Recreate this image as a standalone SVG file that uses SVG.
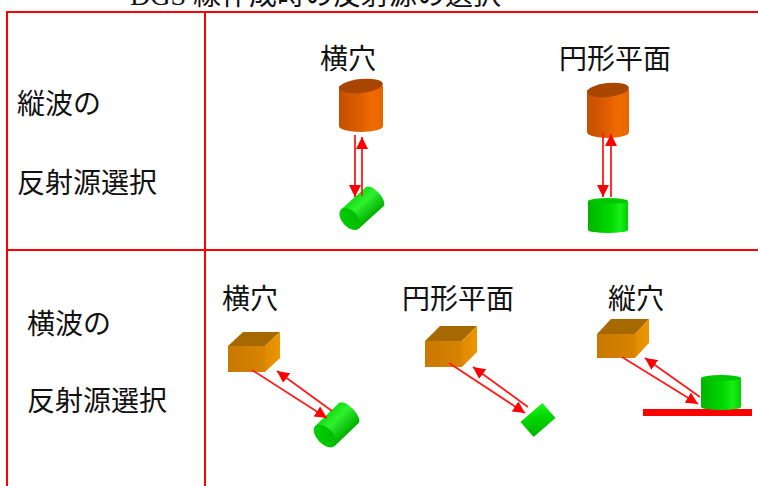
<svg xmlns="http://www.w3.org/2000/svg" width="758" height="486" viewBox="0 0 758 486">
<style>
.txt{font-family:"Liberation Serif","Noto Sans CJK JP",serif;font-size:28px;fill:#111;}
.grid{stroke:#ff0000;stroke-width:2;fill:none;}
.conn{stroke:#ff1a1a;stroke-width:1.8;fill:none;marker-end:url(#ah);}
.otop{fill:#a84600;}
.obody{fill:url(#gOrange);}
.btop{fill:#a66800;}
.bfront{fill:url(#gBoxF);}
.bright{fill:url(#gBoxR);}
.gtop{fill:#00c800;}
.gbody{fill:url(#gGreenV);}
.gcyl{fill:url(#gGreenT);}
.gcap{fill:url(#gGreenCap);}
</style>
<defs>
<marker id="ah" markerUnits="userSpaceOnUse" markerWidth="12" markerHeight="12" refX="12" refY="6" orient="auto">
<path d="M0,0 L12,6 L0,12 z" fill="#ff0000"/>
</marker>
<linearGradient id="gOrange" x1="0" y1="0" x2="1" y2="0">
<stop offset="0" stop-color="#c45000"/>
<stop offset="0.5" stop-color="#e05e00"/>
<stop offset="0.75" stop-color="#f06c00"/>
<stop offset="1" stop-color="#e86400"/>
</linearGradient>
<linearGradient id="gBoxF" x1="0" y1="0" x2="1" y2="0">
<stop offset="0" stop-color="#c87800"/>
<stop offset="1" stop-color="#d88400"/>
</linearGradient>
<linearGradient id="gBoxR" x1="0" y1="0" x2="1" y2="0">
<stop offset="0" stop-color="#e08a00"/>
<stop offset="1" stop-color="#ec9600"/>
</linearGradient>
<linearGradient id="gGreenV" x1="0" y1="0" x2="1" y2="0">
<stop offset="0" stop-color="#00b400"/>
<stop offset="0.55" stop-color="#00d800"/>
<stop offset="0.8" stop-color="#18ee18"/>
<stop offset="1" stop-color="#00d000"/>
</linearGradient>
<linearGradient id="gGreenT" x1="0" y1="0" x2="0" y2="1">
<stop offset="0" stop-color="#10e010"/>
<stop offset="0.35" stop-color="#30f030"/>
<stop offset="1" stop-color="#00b000"/>
</linearGradient>
<linearGradient id="gGreenCap" x1="0" y1="0" x2="1" y2="1">
<stop offset="0" stop-color="#00d000"/>
<stop offset="1" stop-color="#00b800"/>
</linearGradient>
<linearGradient id="gGreenSq" x1="0" y1="1" x2="1" y2="0">
<stop offset="0" stop-color="#00b400"/>
<stop offset="0.6" stop-color="#00d800"/>
<stop offset="1" stop-color="#20f820"/>
</linearGradient>
</defs>
<rect width="758" height="486" fill="#ffffff"/>

<text class="txt" x="130" y="5">DGS 線作成時の反射源の選択</text>

<g id="table">
<line class="grid" x1="7" y1="12" x2="758" y2="12"/>
<line class="grid" x1="7" y1="250" x2="758" y2="250"/>
<line class="grid" x1="7" y1="11" x2="7" y2="486"/>
<line class="grid" x1="205" y1="11" x2="205" y2="486"/>
</g>

<g id="row-labels">
<text class="txt" x="17" y="114">縦波の</text>
<text class="txt" x="17" y="193">反射源選択</text>
<text class="txt" x="27" y="334">横波の</text>
<text class="txt" x="27" y="411">反射源選択</text>
</g>

<g id="col-labels">
<text class="txt" x="320" y="69">横穴</text>
<text class="txt" x="559" y="69">円形平面</text>
<text class="txt" x="222" y="309">横穴</text>
<text class="txt" x="402" y="309">円形平面</text>
<text class="txt" x="608" y="309">縦穴</text>
</g>

<g id="probe-L1">
<rect class="obody" x="339" y="86" width="44" height="40"/>
<ellipse class="obody" cx="361" cy="126" rx="22" ry="6"/>
<ellipse class="otop" cx="361" cy="86" rx="22" ry="7" transform="rotate(-6 361 86)"/>
</g>

<g id="probe-L2">
<rect class="obody" x="587" y="90" width="42" height="42"/>
<ellipse class="obody" cx="608" cy="132" rx="21" ry="6"/>
<ellipse class="otop" cx="608" cy="90" rx="21" ry="7" transform="rotate(-6 608 90)"/>
</g>

<g id="target-L1" transform="translate(350 219) rotate(-42)">
<rect class="gcyl" x="0" y="-13" width="33" height="26"/>
<ellipse class="gcyl" cx="33" cy="0" rx="6" ry="13"/>
<ellipse class="gcap" cx="0" cy="0" rx="8" ry="13"/>
</g>

<g id="target-L2">
<rect class="gbody" x="588" y="201" width="40" height="29"/>
<ellipse class="gbody" cx="608" cy="230" rx="20" ry="3"/>
<ellipse class="gtop" cx="608" cy="201" rx="20" ry="3"/>
</g>

<g id="probe-S1">
<path class="btop" d="M228,346 L243,332 L280,332 L265,346 z"/>
<rect class="bfront" x="228" y="346" width="37" height="26"/>
<path class="bright" d="M265,346 L280,332 L280,358 L265,372 z"/>
</g>

<g id="probe-S2">
<path class="btop" d="M425,341 L440,326 L477,326 L462,341 z"/>
<rect class="bfront" x="425" y="341" width="37" height="26"/>
<path class="bright" d="M462,341 L477,326 L477,352 L462,367 z"/>
</g>

<g id="probe-S3">
<path class="btop" d="M597,334 L611,319 L649,319 L635,334 z"/>
<rect class="bfront" x="597" y="334" width="38" height="24"/>
<path class="bright" d="M635,334 L649,319 L649,343 L635,358 z"/>
</g>

<g id="target-S1" transform="translate(325 436) rotate(-44)">
<rect class="gcyl" x="0" y="-14" width="33" height="28"/>
<ellipse class="gcyl" cx="33" cy="0" rx="6" ry="14"/>
<ellipse class="gcap" cx="0" cy="0" rx="8" ry="14"/>
</g>

<g id="target-S2" transform="translate(538 420) rotate(-41)">
<rect x="-14.5" y="-10" width="29" height="20" fill="url(#gGreenSq)"/>
</g>

<g id="target-S3">
<rect x="643" y="409" width="109" height="7" fill="#ff0000"/>
<rect class="gbody" x="701" y="378" width="40" height="29"/>
<ellipse class="gbody" cx="721" cy="407" rx="20" ry="3"/>
<ellipse class="gtop" cx="721" cy="378" rx="20" ry="3"/>
</g>

<g id="connectors">
<line class="conn" x1="355" y1="135" x2="355" y2="197"/>
<line class="conn" x1="362" y1="196" x2="362" y2="137"/>
<line class="conn" x1="603" y1="133" x2="603" y2="197"/>
<line class="conn" x1="611" y1="197" x2="611" y2="134"/>
<line class="conn" x1="252" y1="370" x2="327" y2="418"/>
<line class="conn" x1="332" y1="411" x2="277" y2="371"/>
<line class="conn" x1="449" y1="363" x2="525" y2="413"/>
<line class="conn" x1="528" y1="407" x2="473" y2="367"/>
<line class="conn" x1="622" y1="357" x2="698" y2="404"/>
<line class="conn" x1="700" y1="397" x2="645" y2="358"/>
</g>
</svg>
